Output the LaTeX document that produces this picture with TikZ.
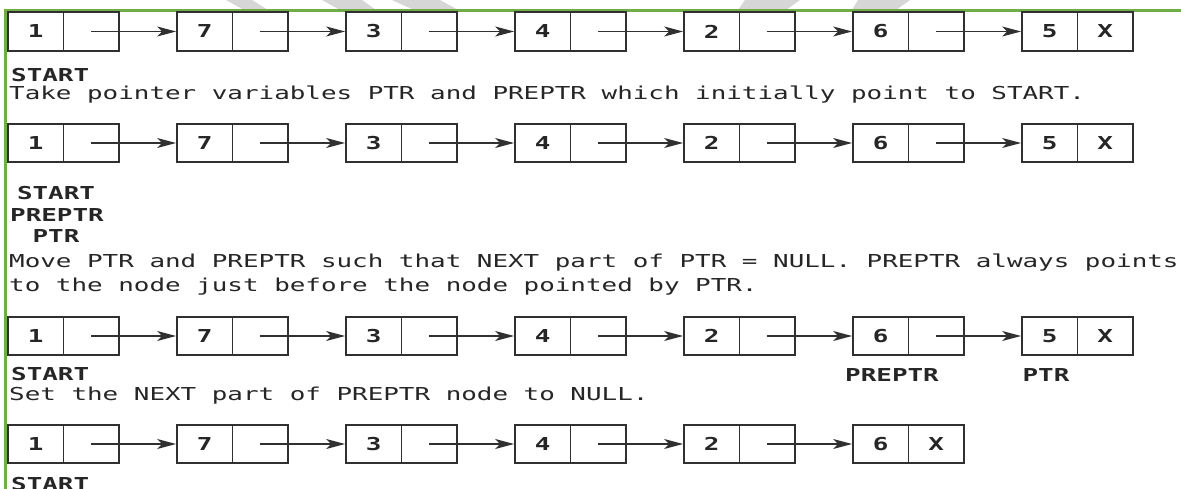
\documentclass[tikz,border=0pt]{standalone}
\usepackage{fontspec}
\newfontfamily\monofnt[FakeStretch=1.455]{DejaVu Sans Mono}
\usetikzlibrary{arrows.meta}
\definecolor{inkc}{HTML}{262626}
\definecolor{linec}{HTML}{303030}
\definecolor{framegreen}{RGB}{112,173,71}
\definecolor{wmark}{HTML}{D6D6D6}
\tikzset{
  cell/.style={draw=linec, line width=1.8pt, rectangle, inner sep=0pt,
    minimum width=55.5pt, minimum height=38.5pt, text=inkc,
    font=\monofnt\bfseries\fontsize{17.8}{20}\selectfont},
  link/.style={draw=linec, line width=1.5pt, -{Stealth[length=19pt,width=10pt,inset=5pt]}},
  txt/.style={inner sep=0pt, anchor=base west, text=inkc,
    font=\monofnt\fontsize{17.8}{20}\selectfont},
  lbl/.style={inner sep=0pt, anchor=base, text=inkc,
    font=\monofnt\bfseries\fontsize{17.8}{20}\selectfont},
  lblw/.style={lbl, anchor=base west},
  frame/.style={draw=framegreen, line width=2.2pt}
}
\newcommand{\listrow}[3]{% prefix, y, list of values
  \foreach \v [count=\k from 0] in {#3} {
    \pgfmathsetmacro{\L}{8+169*\k}
    \node[cell] (#1d\k) at (\L+27.75,#2) {\v};
    \node[cell] (#1p\k) at (\L+83.25,#2) {};
  }
}
\begin{document}
\begin{tikzpicture}[x=1pt,y=-1pt]
\useasboundingbox (0,0) rectangle (1181,489);
\fill[white] (0,0) rectangle (1181,489);
% faint watermark fragments at the top
\fill[wmark] (226,0) -- (252,0) -- (268,10) -- (244,10) -- cycle;
\fill[wmark] (322,0) -- (362,0) -- (376,10) -- (340,10) -- cycle;
\fill[wmark] (392,0) -- (440,0) -- (458,10) -- (414,10) -- cycle;
\fill[wmark] (745,0) -- (800,0) -- (786,10) -- (738,10) -- cycle;
\fill[wmark] (858,0) -- (910,0) -- (896,10) -- (852,10) -- cycle;
% green frame
\coordinate (fTL) at (5.5,10.5);
\coordinate (fTR) at (1181,10.5);
\coordinate (fBL) at (5.5,489);
\draw[frame] (fTR) -- (fTL) -- (fBL);

% row 1
\listrow{a}{31.5}{1,7,3,4,2,6,5}
\node[cell] at (ap6) {X};
\foreach \i [evaluate=\i as \j using int(\i+1)] in {0,...,5}
  \draw[link] (ap\i.center) -- (ad\j.west);
\node[lblw] (s1) at (11,82) {START};
\node[txt] (t1) at (9,99.5) {Take pointer variables PTR and PREPTR which initially point to START.};

% row 2
\listrow{b}{143}{1,7,3,4,2,6,5}
\node[cell] at (bp6) {X};
\foreach \i [evaluate=\i as \j using int(\i+1)] in {0,...,5}
  \draw[link] (bp\i.center) -- (bd\j.west);
\node[lbl] (s2) at (56,200) {START};
\node[lbl] (pp2) at (57,222) {PREPTR};
\node[lbl] (pt2) at (56,243) {PTR};
\node[txt] (t2) at (9,267) {Move PTR and PREPTR such that NEXT part of PTR = NULL. PREPTR always points};
\node[txt] (t3) at (9,291) {to the node just before the node pointed by PTR.};

% row 3
\listrow{c}{336}{1,7,3,4,2,6,5}
\node[cell] at (cp6) {X};
\foreach \i [evaluate=\i as \j using int(\i+1)] in {0,...,5}
  \draw[link] (cp\i.center) -- (cd\j.west);
\node[lblw] (s3) at (11,380) {START};
\node[lbl] (pp3) at (892,381) {PREPTR};
\node[lbl] (pt3) at (1046,381) {PTR};
\node[txt] (t4) at (9,400) {Set the NEXT part of PREPTR node to NULL.};

% row 4
\listrow{e}{444}{1,7,3,4,2,6}
\node[cell] at (ep5) {X};
\foreach \i [evaluate=\i as \j using int(\i+1)] in {0,...,4}
  \draw[link] (ep\i.center) -- (ed\j.west);
\node[lblw] (s4) at (11,490.5) {START};
\end{tikzpicture}
\end{document}
